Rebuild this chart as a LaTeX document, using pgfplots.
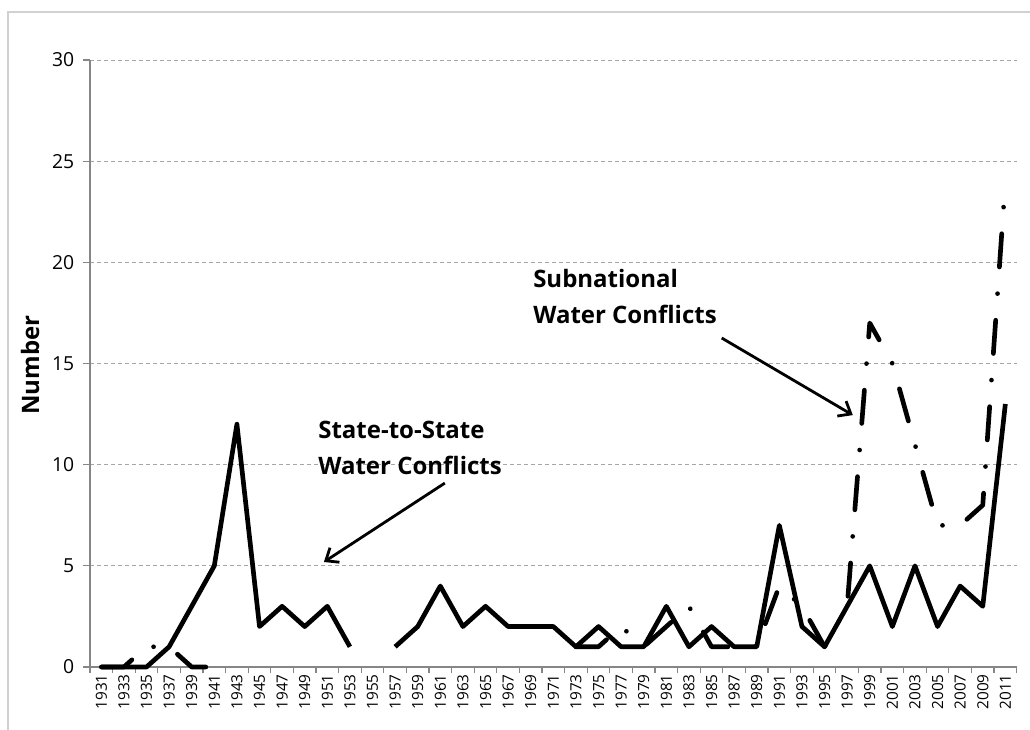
\documentclass[border=0pt]{standalone}
\usepackage{fontspec}
\setmainfont{Open Sans}
\usepackage{pgfplots}
\pgfplotsset{compat=1.18}
\usepackage{pgfplotstable}
\usetikzlibrary{arrows.meta}

\pgfplotstableread{
year state sub
1931 0 0
1933 0 0
1935 0 1
1937 1 1
1939 3 0
1941 5 0
1943 12 nan
1945 2 nan
1947 3 nan
1949 2 nan
1951 3 nan
1953 1 nan
1955 nan nan
1957 1 nan
1959 2 nan
1961 4 nan
1963 2 nan
1965 3 nan
1967 2 nan
1969 2 nan
1971 2 nan
1973 1 1
1975 2 1
1977 1 2
1979 1 1
1981 3 2
1983 1 3
1985 2 1
1987 1 1
1989 1 1
1991 7 4
1993 2 3
1995 1 1
1997 3 3
1999 5 17
2001 2 15
2003 5 11
2005 2 7
2007 4 7
2009 3 8
2011 13 24
}\conflicts

\definecolor{gridgray}{HTML}{A6A6A6}
\definecolor{axisgray}{HTML}{868686}

\begin{document}
\begin{tikzpicture}
\useasboundingbox (0,0) rectangle (772.5pt,546.75pt);
\draw[black!18, line width=0.9pt] (6pt,-5pt) |- (780pt,537.75pt);
\begin{axis}[
  at={(67.5pt,46.5pt)}, anchor=south west,
  scale only axis, width=695pt, height=455.25pt,
  xmin=1930, xmax=2012, ymin=0, ymax=30,
  axis x line*=bottom, axis y line*=left,
  axis line style={axisgray, line width=0.9pt},
  ytick={0,5,...,30},
  xtick={1931,1933,...,2011},
  minor xtick={1930,1932,...,2012},
  major x tick style={draw=none},
  minor x tick style={axisgray, line width=0.9pt},
  y tick style={axisgray, line width=0.9pt},
  tick align=outside,
  major tick length=5.25pt, minor tick length=4.5pt,
  ymajorgrids,
  grid style={gridgray, line width=0.75pt, dash pattern=on 3pt off 2.25pt},
  /pgf/number format/assume math mode=true,
  /pgf/number format/1000 sep={},
  xticklabel={\fontsize{11.5}{13}\selectfont\pgfmathprintnumber{\tick}},
  yticklabel={\fontsize{14.5}{17}\selectfont\pgfmathprintnumber{\tick}},
  yticklabel style={text=black, xshift=-3pt},
  xticklabel style={text=black, rotate=90, anchor=east, inner sep=0pt},
  ylabel={Number},
  every axis y label/.style={at={(axis description cs:-0.0647,0.4975)}, rotate=90, anchor=center, font=\bfseries\fontsize{18}{20}\selectfont},
  unbounded coords=jump,
  clip=false,
]
\addplot[black, line width=3.5pt, line join=round] table[x=year, y=state] {\conflicts};
\addplot[black, line width=3.5pt, line cap=round, line join=round, dash pattern=on 25pt off 20pt on 0.01pt off 20pt] table[x=year, y=sub] {\conflicts};

\node[anchor=base west, inner sep=0pt, font=\bfseries\fontsize{18}{20}\selectfont] at (axis cs:1950.18,11.30) {State-to-State};
\node[anchor=base west, inner sep=0pt, font=\bfseries\fontsize{18}{20}\selectfont] at (axis cs:1950.18,9.49) {Water Conflicts};
\node[anchor=base west, inner sep=0pt, font=\bfseries\fontsize{18}{20}\selectfont] at (axis cs:1969.20,18.77) {Subnational};
\node[anchor=base west, inner sep=0pt, font=\bfseries\fontsize{18}{20}\selectfont] at (axis cs:1969.20,16.99) {Water Conflicts};
\draw[line width=2.1pt, -{Straight Barb[length=8pt,width=13pt]}] (axis cs:1961.4,9.09) -- (axis cs:1950.7,5.19);
\draw[line width=2.1pt, -{Straight Barb[length=8pt,width=13pt]}] (axis cs:1985.9,16.26) -- (axis cs:1997.5,12.45);
\end{axis}
\end{tikzpicture}
\end{document}
